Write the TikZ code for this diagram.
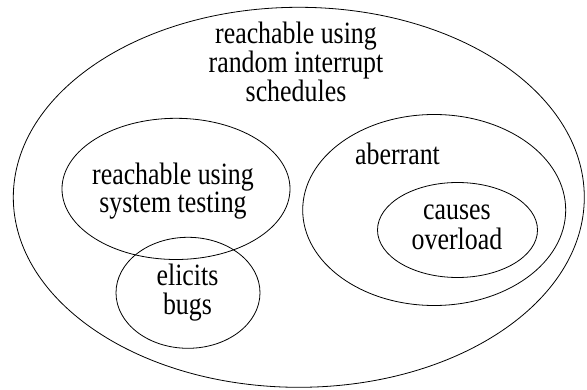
\documentclass[tikz,border=0pt]{standalone}
\usepackage{fontspec}
\setmainfont{Liberation Serif}
\newfontfamily\lbfont{Liberation Serif}[FakeStretch=0.835]
\usetikzlibrary{shapes.geometric}
\begin{document}
\begin{tikzpicture}[x=1pt,y=-1pt,
  set/.style={draw,ellipse,line width=0.8pt,inner sep=0pt},
  lbl/.style={align=center,inner sep=0pt,font=\lbfont\fontsize{31}{29.2}\selectfont}]
\useasboundingbox (0,0) rectangle (587,390);
\node[set,minimum width=571pt,minimum height=380pt] (all) at (298.8,197.3) {};
\node[set,minimum width=228pt,minimum height=141.2pt] (sys) at (176,188.9) {};
\node[set,minimum width=144pt,minimum height=111pt] (bugs) at (188,292.8) {};
\node[set,minimum width=263pt,minimum height=191pt] (aber) at (434.2,210) {};
\node[set,minimum width=160pt,minimum height=95pt] (over) at (457.5,230) {};
\node[lbl] (tall) at (296,62) {reachable using\\random interrupt\\schedules};
\node[lbl,font=\lbfont\fontsize{31}{26.7}\selectfont] (tsys) at (173,191.3) {reachable using\\system testing};
\node[lbl,anchor=base] (taber) at (397.5,165) {aberrant};
\node[lbl] (tover) at (457,227.4) {causes\\overload};
\node[lbl] (tbugs) at (187.5,292.4) {elicits\\bugs};
\end{tikzpicture}
\end{document}
